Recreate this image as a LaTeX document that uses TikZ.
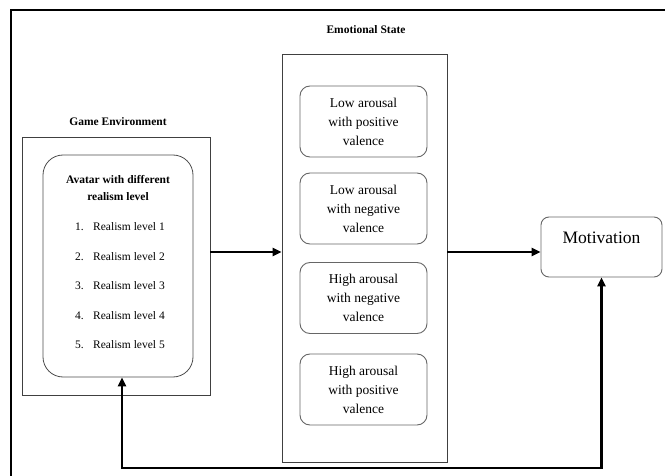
\documentclass[tikz,border=0pt]{standalone}
\usepackage{fontspec}
\setmainfont{Liberation Serif}
\usetikzlibrary{arrows.meta, calc}
\tikzset{
  frame box/.style={
    draw=black!75,
    line width=0.7pt,
    inner sep=0pt
  },
  avatar box/.style={
    draw=black!70,
    line width=0.8pt,
    rounded corners=20pt,
    inner sep=0pt,
    minimum width=150pt,
    minimum height=222pt
  },
  state box/.style={
    draw=black!60,
    line width=0.9pt,
    rounded corners=10pt,
    minimum width=127pt,
    minimum height=71pt,
    align=center,
    font=\fontsize{13.5}{19}\selectfont
  },
  motive box/.style={
    draw=black!60,
    line width=0.9pt,
    rounded corners=8pt,
    minimum width=121pt,
    minimum height=60pt
  },
  title label/.style={
    font=\bfseries\fontsize{11.5}{17}\selectfont,
    align=center
  },
  level item/.style={
    anchor=west,
    inner sep=0pt,
    font=\fontsize{11.5}{14}\selectfont
  },
  flow arrow/.style={
    -{Triangle[length=9pt, width=8pt]},
    line width=2.6pt
  }
}

\begin{document}
\begin{tikzpicture}[x=1pt, y=-1pt]
    % page size and outer frame (only top and left are visible)
    \clip (0,0) rectangle (665,476);
    \draw[line width=1.8pt] (11,490) -- (11,10) -- (680,10);

    % game environment
    \node[title label] (gametitle) at (118,122) {Game Environment};
    \node[frame box, minimum width=188pt, minimum height=258pt] (game) at (116,266) {};
    \node[avatar box] (avatar) at (118,266) {};
    \node[title label] (avatartitle) at (118,188) {Avatar with different\\realism level};
    \foreach \i/\y in {1/227, 2/256.5, 3/286, 4/315.5, 5/345} {
      \node[level item] (level\i) at (75,\y) {\makebox[18pt][l]{\i.}Realism level \i};
    }

    % emotional state
    \node[title label] (emotitle) at (366,30) {Emotional State};
    \node[frame box, minimum width=165pt, minimum height=408pt] (emo) at (364.5,258) {};
    \node[state box] (lowpos) at (363.5,121.5) {Low arousal\\with positive\\valence};
    \node[state box] (lowneg) at (363.5,208.5) {Low arousal\\with negative\\valence};
    \node[state box] (highneg) at (363.5,298) {High arousal\\with negative\\valence};
    \node[state box] (highpos) at (363.5,389.5) {High arousal\\with positive\\valence};

    % motivation
    \node[motive box] (motiv) at (601.5,247) {};
    \node[font=\fontsize{17.5}{20}\selectfont] (motivtext) at ($(motiv.center)+(0,-9)$) {Motivation};

    % arrows
    \coordinate (flow) at (0,252);
    \coordinate (back) at (122,468);
    \draw[flow arrow] (game.east |- flow) -- (emo.west |- flow);
    \draw[flow arrow] (emo.east |- flow) -- (motiv.west |- flow);
    \draw[flow arrow, {Triangle[length=9pt, width=8pt]}-{Triangle[length=9pt, width=8pt]}]
      (motiv.south) |- (back) -- (back |- avatar.south);

\end{tikzpicture}
\end{document}
